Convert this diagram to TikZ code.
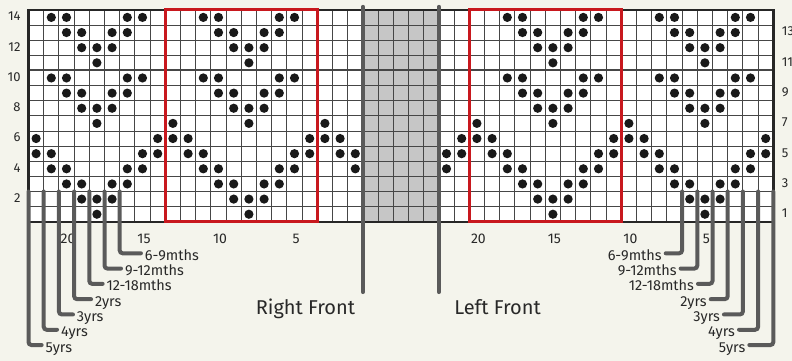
\documentclass[tikz,border=0pt]{standalone}
\usepackage{fontspec}
\setmainfont{Fira Sans}
\definecolor{paper}{RGB}{244,244,236}
\definecolor{gridgrey}{RGB}{70,70,70}
\definecolor{bargrey}{RGB}{90,90,90}
\definecolor{chartred}{RGB}{200,24,30}
\definecolor{gapgrey}{RGB}{198,198,198}
\definecolor{ink}{RGB}{40,40,40}
\begin{document}
\begin{tikzpicture}[x=15.2pt, y=15.14pt,
    gridline/.style={gridgrey, line width=0.9pt},
    stitch/.style={fill=black!90},
    redbox/.style={chartred, line width=3pt},
    divider/.style={bargrey, line width=4pt, line cap=round},
    sizebar/.style={bargrey, line width=4pt, line cap=round, rounded corners=3pt, shorten >=4pt},
    rownum/.style={font=\fontsize{13}{15}\selectfont, inner sep=0pt, text=ink},
    colnum/.style={font=\fontsize{14}{16}\selectfont, inner sep=0pt, anchor=base, text=ink},
    sizelbl/.style={font=\fontsize{14.5}{16}\selectfont, inner sep=0pt, outer sep=0pt, text height=14pt, text depth=0pt, text=ink},
    frontlbl/.style={font=\fontsize{20}{24}\selectfont, inner sep=0pt, anchor=base, text=ink}]
    \useasboundingbox[fill=paper] (-1.875,-9.19) rectangle (50.23,14.65);
    % chart cells
    \fill[white] (0,0) rectangle (22,14);
    \fill[gapgrey] (22,0) rectangle (27,14);
    \fill[white] (27,0) rectangle (49,14);
    \draw[gridline, step={(1,1)}] (0,0) grid (49,14);
    \draw[gridgrey, line width=1.8pt] (0,10) -- (49,10);
    \draw[black!85, line width=2.5pt] (0,0) rectangle (49,14);
    % stitches, right front and its mirror on the left front
    \foreach \r/\cols in {14/{1,2,6,7,11,12,16,17}, 13/{2,3,5,6,12,13,15,16},
        12/{3,4,5,13,14,15}, 11/{4,14}, 10/{1,2,6,7,11,12,16,17},
        9/{2,3,5,6,12,13,15,16}, 8/{3,4,5,13,14,15}, 7/{4,9,14,19},
        6/{0,8,9,10,18,19,20}, 5/{0,1,7,8,10,11,17,18,20,21},
        4/{1,2,6,7,11,12,16,17,21}, 3/{2,3,5,6,12,13,15,16},
        2/{3,4,5,13,14,15}, 1/{4,14}}
        \foreach \c in \cols {
            \fill[stitch] (\c+0.5,\r-0.5) circle (4.6pt);
            \fill[stitch] (48.5-\c,\r-0.5) circle (4.6pt);
        }
    \draw[redbox] (9,0) rectangle (19,14);
    \draw[redbox] (29,0) rectangle (39,14);
    \draw[divider] (22,14.2) -- (22,-4.64);
    \draw[divider] (27,14.2) -- (27,-4.64);
    % row and stitch numbers
    \foreach \r in {2,4,...,14}
        \node[rownum, anchor=base east] (rowl\r) at (-0.51,\r-0.72) {\r};
    \foreach \r in {1,3,...,13}
        \node[rownum, anchor=base west] (rowr\r) at (49.55,\r-0.72) {\r};
    \foreach \n in {5,10,15,20} {
        \node[colnum] (coll\n) at (22.6-\n,-1.42) {\n};
        \node[colnum] (colr\n) at (49.6-\n,-1.42) {\n};
    }
    % sizes
    \foreach \k/\i/\dx/\lbl in {6/0/1.66/6-9mths, 5/1/1.35/9-12mths, 4/2/1.14/12-18mths,
        3/3/1.38/2yrs, 2/4/1.19/3yrs, 1/5/1.14/4yrs, 0/6/1.13/5yrs} {
        \coordinate (barl\k) at (\k,2.0);
        \node[sizelbl, anchor=west] (sizel\k) at (\k+\dx,-2.08-1.01*\i) {\lbl};
        \draw[sizebar] (barl\k) |- (sizel\k);
    }
    \foreach \k/\i/\dx/\lbl in {43/0/1.34/6-9mths, 44/1/1.36/9-12mths, 45/2/1.22/12-18mths,
        46/3/1.38/2yrs, 47/4/1.51/3yrs, 48/5/1.52/4yrs, 49/6/1.84/5yrs} {
        \coordinate (barr\k) at (\k,2.0);
        \node[sizelbl, anchor=east] (sizer\k) at (\k-\dx,-2.08-1.01*\i) {\lbl};
        \draw[sizebar] (barr\k) |- (sizer\k);
    }
    \node[frontlbl] (rightfront) at (18.22,-6.12) {Right Front};
    \node[frontlbl] (leftfront) at (30.86,-6.12) {Left Front};
\end{tikzpicture}
\end{document}
